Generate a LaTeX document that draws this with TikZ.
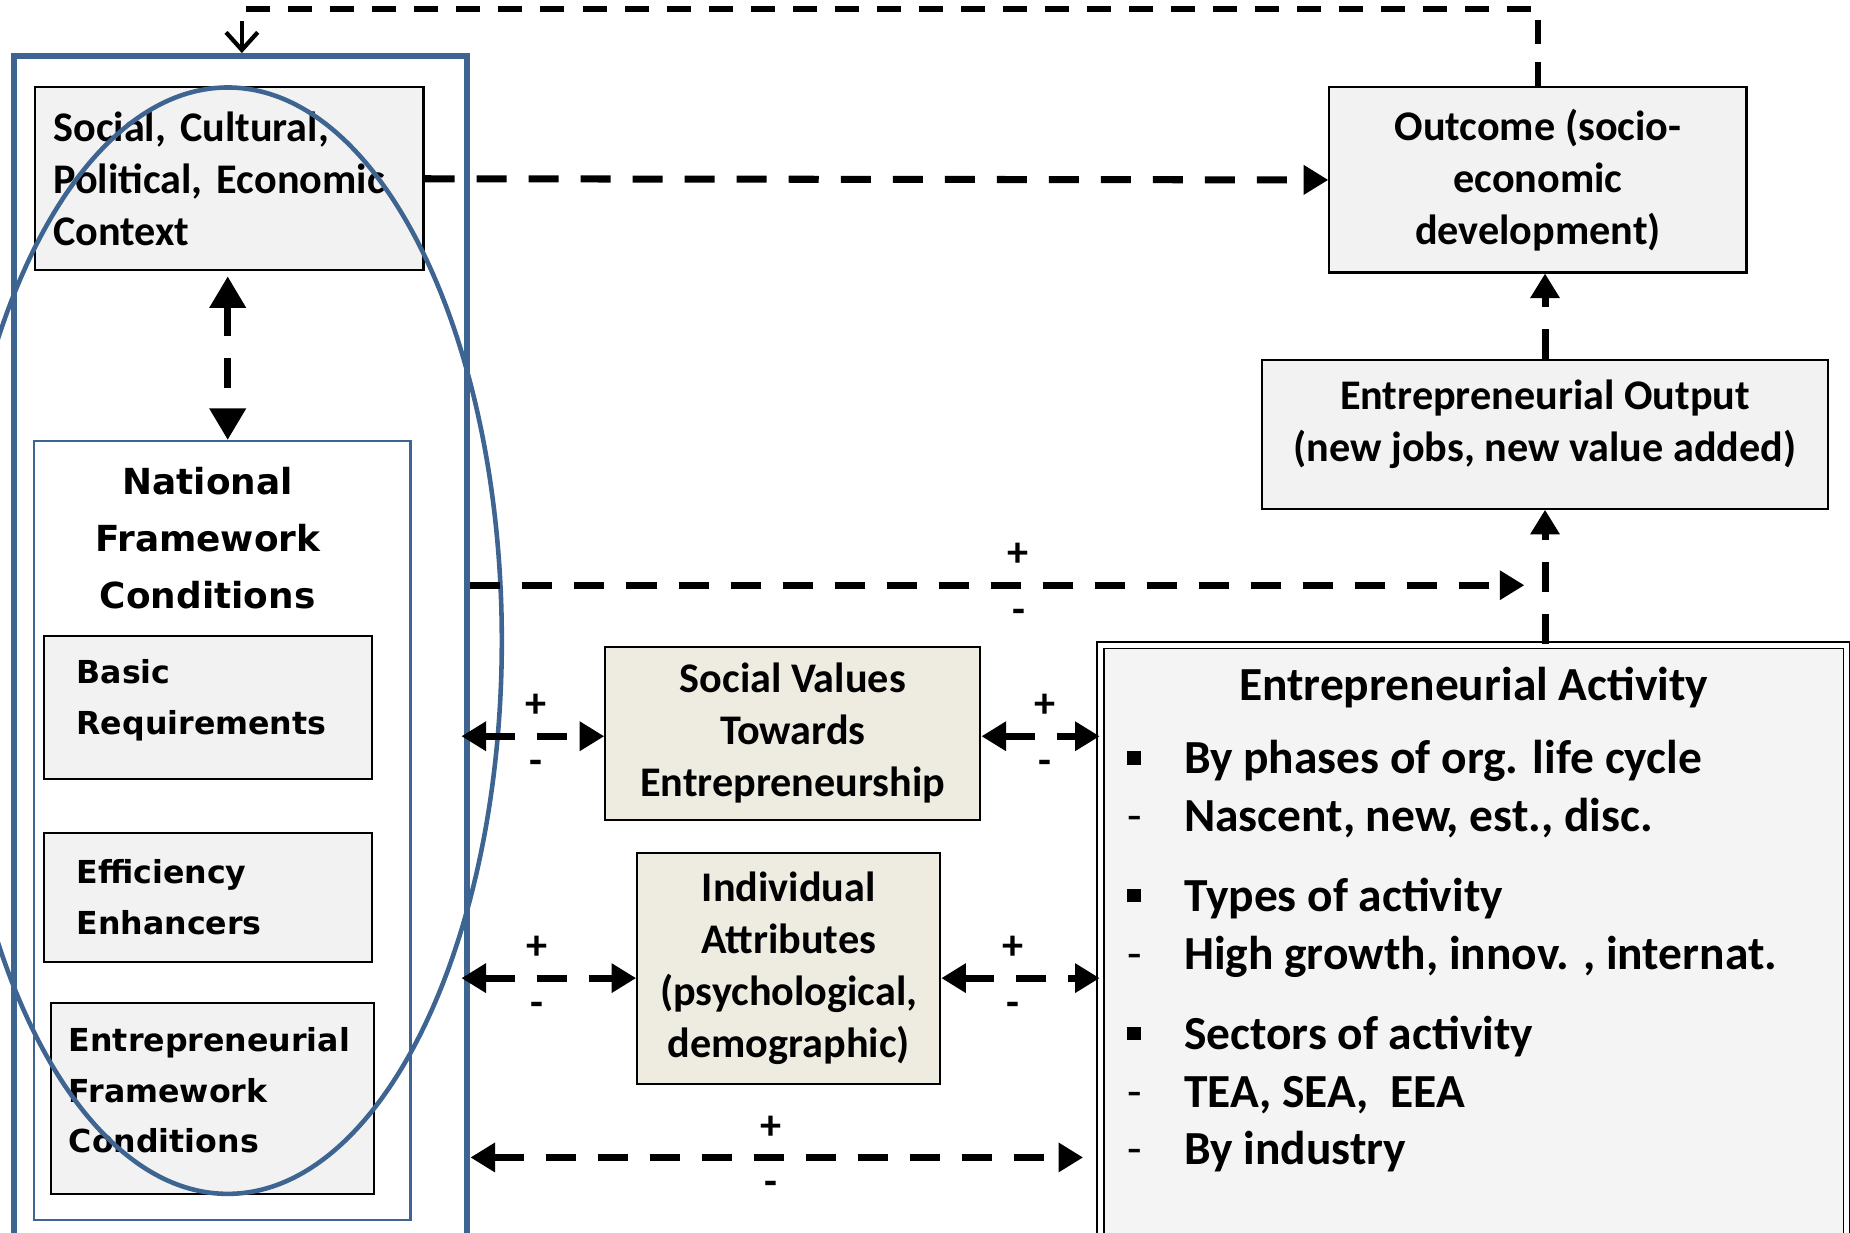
\documentclass[tikz,border=0pt]{standalone}
\usepackage{fontspec}
\setmainfont{Carlito}
\newfontfamily\verdanafont{DejaVu Sans}
\usetikzlibrary{arrows.meta}

\definecolor{gemblue}{RGB}{62,100,145}
\definecolor{boxgray}{RGB}{242,242,242}
\definecolor{actgray}{RGB}{244,244,244}
\definecolor{beige}{RGB}{238,236,225}

\tikzset{
  graybox/.style={draw=black, line width=0.6pt, fill=boxgray, inner sep=0pt,
    align=center, font=\bfseries\fontsize{12}{14.8}\selectfont},
  beigebox/.style={graybox, fill=beige},
  nfcbox/.style={draw=black, line width=0.6pt, fill=boxgray, inner ysep=0pt, align=left,
    font=\verdanafont\bfseries\fontsize{9}{14.4}\selectfont},
  flow/.style={line width=2pt, dash pattern=on 0.3cm off 0.22cm},
  twoway/.style={flow, {Triangle[length=7pt,width=8pt]}-{Triangle[length=7pt,width=8pt]}},
  oneway/.style={flow, -{Triangle[length=7pt,width=8pt]}},
  plussign/.style={yshift=0.30cm, inner sep=0pt, font=\bfseries\fontsize{12}{12}\selectfont},
  minussign/.style={yshift=-0.31cm, inner sep=0pt, font=\bfseries\fontsize{12}{12}\selectfont},
}

\newcommand{\actbullet}{\makebox[0.566cm][l]{\raisebox{2.6pt}{\rule{3.8pt}{3.8pt}}}}
\newcommand{\actdash}{\makebox[0.566cm][l]{\mdseries -}}

\begin{document}
\begin{tikzpicture}[x=0.0118cm, y=-0.0118cm]
\useasboundingbox (0,0) rectangle (1568,1045);
\clip (0,0) rectangle (1568,1045);

% left column
\node[draw=gemblue, line width=1.8pt, minimum width=4.53cm, minimum height=12.18cm] (outer) at (204,564) {};
\node[graybox, align=left, text width=3.52cm, inner xsep=0.18cm, minimum height=1.83cm] (social) at (194.5,151.5)
  {Social, Cultural,\\Political, Economic\\Context};
\node[draw=gemblue, line width=0.6pt, fill=white, minimum width=3.76cm, minimum height=7.79cm] (nfc) at (188.5,704) {};
\node[align=center, font=\verdanafont\bfseries\fontsize{10.2}{16.3}\selectfont] (nfctitle) at (176,456)
  {National\\Framework\\Conditions};
\node[nfcbox, text width=2.62cm, inner xsep=0.33cm, minimum height=1.43cm, text depth=0.715cm] (basic) at (176,599.5)
  {Basic\\Requirements};
\node[nfcbox, text width=2.62cm, inner xsep=0.33cm, minimum height=1.29cm] (efficiency) at (176,760.5)
  {Efficiency\\Enhancers};
\node[nfcbox, text width=2.87cm, inner xsep=0.18cm, minimum height=1.91cm, text depth=1.18cm] (efc) at (180,931)
  {Entrepreneurial\\Framework\\Conditions};
\draw[gemblue, line width=1.3pt] (193,543) ellipse [x radius=2.74cm, y radius=5.53cm];

% middle and right
\node[beigebox, minimum width=3.75cm, minimum height=1.73cm] (values) at (672,621.5)
  {Social Values\\Towards\\Entrepreneurship};
\node[beigebox, minimum width=3.03cm, minimum height=2.31cm] (attributes) at (668.5,821)
  {Individual\\Attributes\\(psychological,\\demographic)};
\node[graybox, minimum width=4.17cm, minimum height=1.85cm] (outcome) at (1303.5,152.5)
  {Outcome (socio-\\economic\\development)};
\node[graybox, minimum width=5.65cm, minimum height=1.49cm, text depth=0.27cm] (output) at (1309.5,368)
  {Entrepreneurial Output\\(new jobs, new value added)};
\node[draw=black, line width=0.5pt, double, double distance=1.4pt, fill=actgray,
  minimum width=7.46cm, minimum height=6.61cm] (activity) at (1249,827) {};
\node[font=\bfseries\fontsize{13.5}{16.4}\selectfont] (acttitle) at (1249,583) {Entrepreneurial Activity};
\node[anchor=north west, inner sep=0pt, align=left, font=\bfseries\fontsize{13.5}{16.4}\selectfont] (actlist) at (955,627)
  {\actbullet By phases of org. life cycle\\
   \actdash Nascent, new, est., disc.\\[6.4pt]
   \actbullet Types of activity\\
   \actdash High growth, innov. , internat.\\[6.4pt]
   \actbullet Sectors of activity\\
   \actdash TEA, SEA,\ \ EEA\\
   \actdash By industry};

% connectors
\coordinate (toprun) at (205,8);
\coordinate (outend) at (1292,496);
\coordinate (botend) at (918,981);

\draw[flow, line width=1.7pt, dash pattern=on 0.24cm off 0.18cm] (outcome.north) -- (outcome.north |- toprun) -- (toprun);
\draw[line width=1.2pt, -{Straight Barb[length=5pt,width=9pt]}] ([yshift=-0.12cm]toprun) -- (outer.north -| toprun);
\draw[oneway] (social.east) -- (outcome.west);
\draw[flow, {Triangle[length=9pt,width=10pt]}-{Triangle[length=9pt,width=10pt]}]
  ([yshift=-0.05cm]social.south -| 193,0) -- (nfc.north -| 193,0);
\draw[oneway] (output.north) -- (output.north |- outcome.south);
\draw[oneway] (activity.north -| output.north) -- (output.south);
\draw[oneway] (outer.east |- outend) -- (outend)
  node[pos=0.52, plussign] {+} node[pos=0.52, minussign] {-};
\draw[twoway, shorten <=-0.09cm] (outer.east |- 0,624) -- (values.west |- 0,624)
  node[pos=0.49, plussign] {+} node[pos=0.49, minussign] {-};
\draw[twoway] (values.east |- 0,624) -- (activity.west |- 0,624)
  node[pos=0.54, plussign] {+} node[pos=0.54, minussign] {-};
\draw[twoway, shorten <=-0.09cm] (outer.east |- 0,829) -- (attributes.west |- 0,829)
  node[pos=0.40, plussign] {+} node[pos=0.40, minussign] {-};
\draw[twoway] (attributes.east |- 0,829) -- (activity.west |- 0,829)
  node[pos=0.45, plussign] {+} node[pos=0.45, minussign] {-};
\draw[twoway] (outer.east |- botend) -- (botend)
  node[pos=0.49, plussign] {+} node[pos=0.49, minussign] {-};

\end{tikzpicture}
\end{document}
